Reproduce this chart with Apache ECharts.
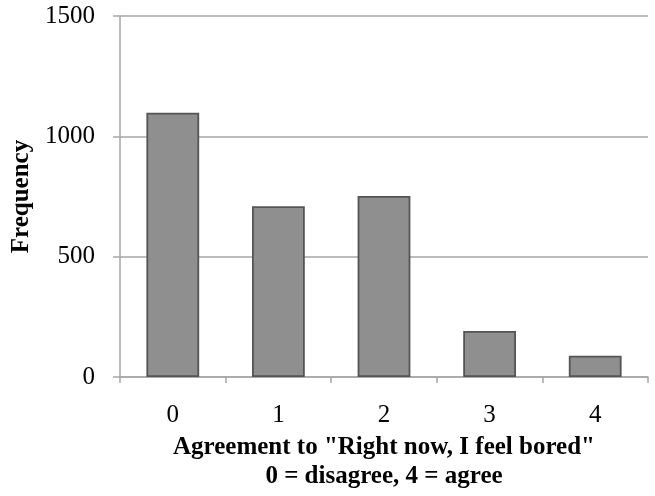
<!DOCTYPE html>
<html><head><meta charset="utf-8">
<script src="https://cdn.jsdelivr.net/npm/echarts@6/dist/echarts.min.js"></script>
<style>html,body{margin:0;padding:0;background:#fff}#c{width:655px;height:496px}</style>
</head><body><div id="c"></div>
<script>
const categories = ['0', '1', '2', '3', '4'];
const frequency = [1098, 710, 752, 191, 88];
const yTicks = [0, 500, 1000, 1500];

const gray = '#a6a6a6';
const font = 'Liberation Serif';
const chart = echarts.init(document.getElementById('c'));
chart.setOption({
  animation: false,
  grid: { left: 120, right: 7, top: 16, bottom: 119, containLabel: false, outerBoundsMode: 'none' },
  xAxis: {
    type: 'category', data: categories,
    axisLine: { lineStyle: { color: gray, width: 1.5 } },
    axisTick: { show: true, length: 6, lineStyle: { color: gray, width: 1.5 } },
    axisLabel: { margin: 26, color: '#000', fontFamily: font, fontSize: 25 },
    name: 'Agreement to "Right now, I feel bored"\n0 = disagree, 4 = agree',
    nameLocation: 'middle', nameGap: 56,
    nameTextStyle: { color: '#000', fontFamily: font, fontSize: 25, fontWeight: 'bold', lineHeight: 29, verticalAlign: 'top' }
  },
  yAxis: {
    type: 'value', min: yTicks[0], max: yTicks[yTicks.length - 1], interval: 500,
    axisLine: { show: true, lineStyle: { color: gray, width: 1.5 } },
    axisTick: { show: true, length: 7, lineStyle: { color: gray, width: 1.5 } },
    splitLine: { lineStyle: { color: gray, width: 1.5 } },
    axisLabel: { margin: 25, color: '#000', fontFamily: font, fontSize: 25, formatter: v => String(v) },
    name: 'Frequency', nameLocation: 'middle', nameGap: 80,
    nameTextStyle: { color: '#000', fontFamily: font, fontSize: 25, fontWeight: 'bold' }
  },
  series: [{
    type: 'bar', data: frequency, barWidth: '50%',
    itemStyle: { color: '#8f8f8f', borderColor: '#555555', borderWidth: 1.8 }
  }]
});
</script></body></html>
